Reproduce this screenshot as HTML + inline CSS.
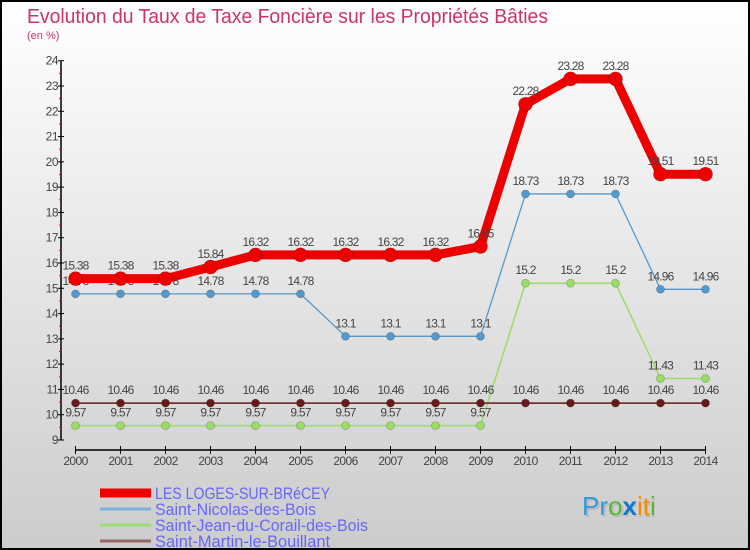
<!DOCTYPE html>
<html><head><meta charset="utf-8"><style>
html,body{margin:0;padding:0;width:750px;height:550px;overflow:hidden}
svg{display:block;font-family:"Liberation Sans",sans-serif}
</style></head><body>
<svg id="chart" width="750" height="550" viewBox="0 0 750 550">
<defs><linearGradient id="bg" x1="0" y1="0" x2="0" y2="1"><stop offset="0" stop-color="#ffffff"/><stop offset="1" stop-color="#cccccc"/></linearGradient></defs>
<rect x="1" y="1" width="748" height="548" fill="url(#bg)" stroke="#000" stroke-width="2"/>
<text x="27" y="23" font-size="20" fill="#cc3366" textLength="521" lengthAdjust="spacingAndGlyphs">Evolution du Taux de Taxe Foncière sur les Propriétés Bâties</text>
<text x="27" y="39" font-size="11" fill="#cc3366">(en %)</text>
<g id="axes"></g>
<g id="series"></g>
<g id="legend"></g>
<g font-size="26" font-family="'Liberation Sans',sans-serif">
<text x="584" y="517" fill="#999" opacity="0.4">Proxiti</text>
<text x="582" y="515"><tspan fill="#3399dd">P</tspan><tspan fill="#3399dd">r</tspan><tspan fill="#55bb33">o</tspan><tspan fill="#1177cc" font-weight="bold">x</tspan><tspan fill="#ff8800">i</tspan><tspan fill="#ff8800">t</tspan><tspan fill="#55bb33">i</tspan></text>
</g>
</svg>
<script>
const years = [2000,2001,2002,2003,2004,2005,2006,2007,2008,2009,2010,2011,2012,2013,2014];
const seriesNames = ["LES LOGES-SUR-BRéCEY","Saint-Nicolas-des-Bois","Saint-Jean-du-Corail-des-Bois","Saint-Martin-le-Bouillant"];
const logesValues = [15.38,15.38,15.38,15.84,16.32,16.32,16.32,16.32,16.32,16.65,22.28,23.28,23.28,19.51,19.51];
const nicolasValues = [14.78,14.78,14.78,14.78,14.78,14.78,13.1,13.1,13.1,13.1,18.73,18.73,18.73,14.96,14.96];
const jeanValues = [9.57,9.57,9.57,9.57,9.57,9.57,9.57,9.57,9.57,9.57,15.2,15.2,15.2,11.43,11.43];
const martinValues = [10.46,10.46,10.46,10.46,10.46,10.46,10.46,10.46,10.46,10.46,10.46,10.46,10.46,10.46,10.46];
const logesLabels = ["15.38","15.38","15.38","15.84","16.32","16.32","16.32","16.32","16.32","16.65","22.28","23.28","23.28","19.51","19.51"];
const nicolasLabels = ["14.78","14.78","14.78","14.78","14.78","14.78","13.1","13.1","13.1","13.1","18.73","18.73","18.73","14.96","14.96"];
const jeanLabels = ["9.57","9.57","9.57","9.57","9.57","9.57","9.57","9.57","9.57","9.57","15.2","15.2","15.2","11.43","11.43"];
const martinLabels = ["10.46","10.46","10.46","10.46","10.46","10.46","10.46","10.46","10.46","10.46","10.46","10.46","10.46","10.46","10.46"];
const yTicks = [9,10,11,12,13,14,15,16,17,18,19,20,21,22,23,24];

const NS="http://www.w3.org/2000/svg";
const yMin=9,yMax=24,py0=440,py1=60.7;
const x0=75.5,x1=705.5;
function xs(i){return x0+(x1-x0)*i/(years.length-1);}
function ys(v){return py0-(v-yMin)*(py0-py1)/(yMax-yMin);}
function mk(tag,attrs,parent){const e=document.createElementNS(NS,tag);for(const k in attrs)e.setAttribute(k,attrs[k]);parent.appendChild(e);return e;}

const axes=document.getElementById('axes');
const yAxis=mk('line',{x1:61,y1:ys(24),x2:61,y2:ys(9),stroke:'#000','stroke-width':1.5},axes);


yTicks.forEach(t=>{
  const y=ys(t);
  const tk=mk('line',{x1:58,y1:y,x2:64,y2:y,stroke:'#000','stroke-width':1},axes);
  
  
  if(t<24){const m=mk('line',{x1:59,y1:ys(t+0.5),x2:62,y2:ys(t+0.5),stroke:'#e00','stroke-width':1},axes);
    
    }
  const lb=mk('text',{x:58,y:y+4,'font-size':12,fill:'#444','text-anchor':'end','letter-spacing':'-0.5'},axes);
  lb.textContent=t;
  
  
});
const xAxis=mk('line',{x1:x0,y1:450,x2:x1,y2:450,stroke:'#000','stroke-width':1.5},axes);


years.forEach((yr,i)=>{
  const x=xs(i);
  const tk=mk('line',{x1:x,y1:446,x2:x,y2:454,stroke:'#000','stroke-width':1},axes);
  
  
  const lb=mk('text',{x:x,y:465,'font-size':12,fill:'#444','text-anchor':'middle','letter-spacing':'-0.6'},axes);
  lb.textContent=yr;
  
  
});

const series=document.getElementById('series');
function draw(vals,labels,color,lw,r,name){
  const g=mk('g',{},series);
  
  
  const pl=mk('polyline',{points:vals.map((v,i)=>xs(i)+','+ys(v)).join(' '),fill:'none',stroke:color,'stroke-width':lw,'stroke-linejoin':'round'},g);
  
  
  vals.forEach((v,i)=>{
    const c=mk('circle',{cx:xs(i),cy:ys(v),r:r,fill:color,stroke:'rgba(0,0,0,0.25)','stroke-width':0.7},g);
    
    
  });
  vals.forEach((v,i)=>{
    const t=mk('text',{x:xs(i),y:ys(v)-9,'font-size':12,fill:'#444','text-anchor':'middle','letter-spacing':'-0.8'},g);
    t.textContent=labels[i];
    
    
  });
}
draw(jeanValues,jeanLabels,'#99dd66',1.5,4,'saint-jean');
draw(martinValues,martinLabels,'#661a1a',1.5,4,'saint-martin');
draw(nicolasValues,nicolasLabels,'#5599cc',1.3,4,'saint-nicolas');
draw(logesValues,logesLabels,'#ee0000',9,7,'les-loges');

const legend=document.getElementById('legend');
const legColors=['#ee0000','#7fb0d6','#99dd77','#996666'];
const legW=[9,3,3,3];
const legKeys=['les-loges','saint-nicolas','saint-jean','saint-martin'];
const legTextW=[175,161,213,175];
seriesNames.forEach((n,i)=>{
  const y=493+i*16;
  const l=mk('line',{x1:100,y1:y,x2:151,y2:y,stroke:legColors[i],'stroke-width':legW[i]},legend);
  
  
  const t=mk('text',{x:155,y:y+6,'font-size':17,fill:'#6666ff',textLength:legTextW[i],lengthAdjust:'spacingAndGlyphs'},legend);
  t.textContent=n;
  
  
});
</script>
</body></html>
